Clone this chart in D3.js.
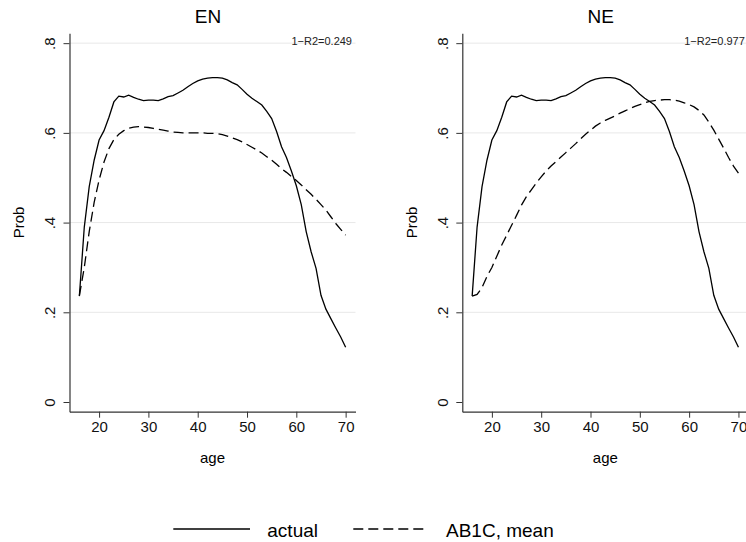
<!DOCTYPE html>
<html>
<head>
<meta charset="utf-8">
<script src="https://cdn.jsdelivr.net/npm/d3@7"></script>
<style>
  body { margin: 0; background: #fff; }
  svg { display: block; font-family: "Liberation Sans", Arial, Helvetica, sans-serif; }
</style>
</head>
<body>
<svg id="chart" width="746" height="542"></svg>
<script>
/* Data */
var ages = [16, 17, 18, 19, 20, 21, 22, 23, 24, 25, 26, 27, 28, 29, 30, 31, 32, 33, 34, 35,
            36, 37, 38, 39, 40, 41, 42, 43, 44, 45, 46, 47, 48, 49, 50, 51, 52, 53, 54, 55,
            56, 57, 58, 59, 60, 61, 62, 63, 64, 65, 66, 67, 68, 69, 70];

var actualProb = [0.236, 0.39, 0.48, 0.539, 0.584, 0.605, 0.635, 0.669, 0.682, 0.680,
                  0.684, 0.679, 0.675, 0.672, 0.673, 0.673, 0.672, 0.676, 0.681, 0.683,
                  0.689, 0.695, 0.703, 0.710, 0.716, 0.720, 0.722, 0.723, 0.723, 0.722,
                  0.718, 0.712, 0.707, 0.697, 0.686, 0.677, 0.670, 0.662, 0.648, 0.632,
                  0.603, 0.569, 0.545, 0.515, 0.482, 0.440, 0.380, 0.335, 0.298, 0.238,
                  0.207, 0.186, 0.165, 0.145, 0.122];

var enMeanProb = [0.237, 0.300, 0.380, 0.445, 0.495, 0.535, 0.565, 0.585, 0.597, 0.605,
                  0.610, 0.613, 0.614, 0.613, 0.612, 0.610, 0.608, 0.606, 0.604, 0.602,
                  0.601, 0.600, 0.600, 0.600, 0.600, 0.600, 0.599, 0.599, 0.598, 0.596,
                  0.593, 0.589, 0.585, 0.580, 0.574, 0.568, 0.562, 0.555, 0.547, 0.539,
                  0.530, 0.520, 0.512, 0.503, 0.494, 0.484, 0.473, 0.463, 0.452, 0.440,
                  0.428, 0.413, 0.398, 0.385, 0.372];

var neMeanProb = [0.236, 0.240, 0.255, 0.280, 0.300, 0.325, 0.350, 0.372, 0.394, 0.416,
                  0.439, 0.458, 0.473, 0.488, 0.502, 0.515, 0.526, 0.536, 0.546, 0.556,
                  0.566, 0.576, 0.587, 0.597, 0.606, 0.615, 0.622, 0.628, 0.633, 0.638,
                  0.644, 0.649, 0.654, 0.659, 0.663, 0.667, 0.670, 0.672, 0.673, 0.674,
                  0.674, 0.673, 0.671, 0.667, 0.663, 0.658, 0.650, 0.640, 0.624, 0.606,
                  0.586, 0.566, 0.545, 0.526, 0.510];

var panelTitles = ["EN", "NE"];
var fitLabels = ["1\u2212R2=0.249", "1\u2212R2=0.977"];
var seriesNames = ["actual", "AB1C, mean"];
var xTicks = [20, 30, 40, 50, 60, 70];
var yTicks = [0, 0.2, 0.4, 0.6, 0.8];
var yTickLabels = ["0", ".2", ".4", ".6", ".8"];

var svg = d3.select("#chart");

var plotW = 286,
    plotH = 378.4,
    top0 = 33.3,
    dash = "10,5";

var x = d3.scaleLinear().domain([14, 72]).range([0, plotW]);
var y = d3.scaleLinear().domain([-0.0216, 0.822]).range([plotH, 0]);

var line = d3.line()
    .x(function(d) { return x(d.age); })
    .y(function(d) { return y(d.p); });

function toPoints(vals) {
  return ages.map(function(a, i) { return { age: a, p: vals[i] }; });
}

var panels = [
  { left: 69.5, title: panelTitles[0], fit: fitLabels[0], model: enMeanProb },
  { left: 462.3, title: panelTitles[1], fit: fitLabels[1], model: neMeanProb }
];

panels.forEach(function(pn) {
  var g = svg.append("g").attr("transform", "translate(" + pn.left + "," + top0 + ")");

  /* grid */
  g.selectAll(".grid")
      .data(yTicks.filter(function(t) { return t > 0; }))
      .enter().append("line")
      .attr("x1", 0).attr("x2", plotW)
      .attr("y1", function(d) { return y(d); })
      .attr("y2", function(d) { return y(d); })
      .attr("stroke", "#e8e8e8")
      .attr("stroke-width", 1);

  /* axes */
  var xAxis = g.append("g")
      .attr("transform", "translate(0," + plotH + ")")
      .call(d3.axisBottom(x).tickValues(xTicks).tickSize(6).tickPadding(4).tickSizeOuter(0));
  xAxis.selectAll("text").attr("font-size", 15).attr("fill", "#111").attr("font-family", null);

  var yAxis = g.append("g")
      .call(d3.axisLeft(y).tickValues(yTicks).tickSize(6).tickSizeOuter(0)
        .tickFormat(function(d, i) { return yTickLabels[i]; }));
  yAxis.selectAll("text")
      .attr("font-size", 15).attr("fill", "#111").attr("font-family", null)
      .attr("text-anchor", "middle")
      .attr("x", null).attr("dy", null)
      .attr("transform", "translate(-14.5,0) rotate(-90)");

  [xAxis, yAxis].forEach(function(a) {
    a.select(".domain").attr("stroke", "#333").attr("stroke-width", 1.2);
    a.selectAll(".tick line").attr("stroke", "#333");
  });

  /* curves */
  g.append("path")
      .datum(toPoints(actualProb))
      .attr("d", line)
      .attr("fill", "none")
      .attr("stroke", "#000")
      .attr("stroke-width", 1.3);

  g.append("path")
      .datum(toPoints(pn.model))
      .attr("d", line)
      .attr("fill", "none")
      .attr("stroke", "#000")
      .attr("stroke-width", 1.3)
      .attr("stroke-dasharray", dash);

  /* texts */
  g.append("text")
      .attr("x", 138.5).attr("y", -10)
      .attr("text-anchor", "middle")
      .attr("font-size", 19)
      .text(pn.title);

  g.append("text")
      .attr("x", plotW - 3.5).attr("y", 11.5)
      .attr("text-anchor", "end")
      .attr("font-size", 11)
      .attr("fill", "#222")
      .text(pn.fit);

  g.append("text")
      .attr("x", plotW / 2).attr("y", 463.5 - top0)
      .attr("text-anchor", "middle")
      .attr("font-size", 15)
      .text("age");

  g.append("text")
      .attr("transform", "translate(-45.5," + (plotH / 2) + ") rotate(-90)")
      .attr("text-anchor", "middle")
      .attr("font-size", 15)
      .text("Prob");
});

/* legend */
var legend = svg.append("g").attr("transform", "translate(0,529)");

legend.append("line")
    .attr("x1", 173.3).attr("x2", 250)
    .attr("stroke", "#000").attr("stroke-width", 1.3);
legend.append("text")
    .attr("x", 267.3).attr("y", 7.5)
    .attr("font-size", 19)
    .text(seriesNames[0]);

legend.append("line")
    .attr("x1", 353.3).attr("x2", 427)
    .attr("stroke", "#000").attr("stroke-width", 1.3)
    .attr("stroke-dasharray", dash);
legend.append("text")
    .attr("x", 446).attr("y", 7.5)
    .attr("font-size", 19)
    .text(seriesNames[1]);
</script>
</body>
</html>
